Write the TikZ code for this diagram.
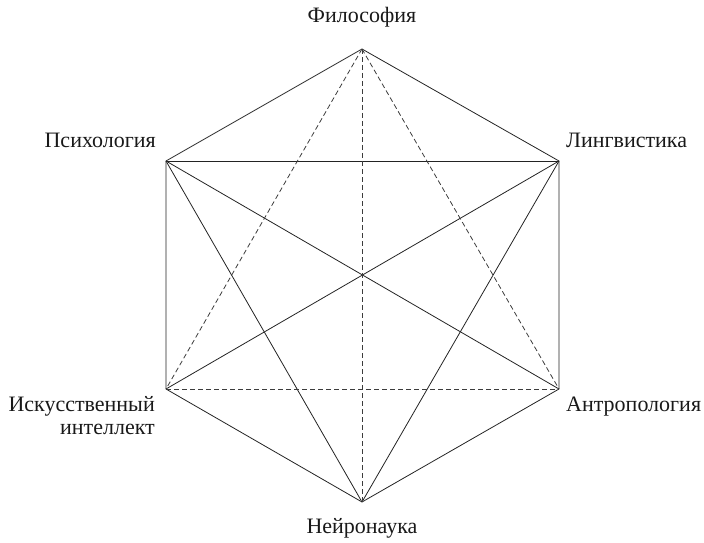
\documentclass[tikz,border=0pt]{standalone}
\usepackage{fontspec}
\setmainfont{Liberation Serif}
\usepackage{tikz}
\usetikzlibrary{calc,positioning}
\definecolor{hexLine}{RGB}{35,35,35}
\definecolor{hexDash}{RGB}{60,60,60}

\tikzset{
  solidedge/.style={hexLine, line width=0.8pt},
  dashedge/.style={hexDash, line width=0.8pt, dash pattern=on 5pt off 3pt},
  lbl/.style={font=\fontsize{22}{23}\selectfont, inner sep=0pt, text=black!90}
}

\begin{document}
\begin{tikzpicture}[x=1pt,y=1pt]
\useasboundingbox (0,0) rectangle (704,542);

% vertices of the hexagon
\coordinate (phil) at (362,493);
\coordinate (psy) at (166,381);
\coordinate (ling) at (559,381);
\coordinate (ai) at (166,153);
\coordinate (anth) at (559,153);
\coordinate (neuro) at (362,40);

% labels
\node[lbl, anchor=base] (philL) at (362,519) {Философия};
\node[lbl, anchor=base east] (psyL) at (156,395) {Психология};
\node[lbl, anchor=base west] (lingL) at (566,395) {Лингвистика};
\node[lbl, anchor=north east, align=right] (aiL) at (155,146) {Искусственный\\интеллект};
\node[lbl, anchor=base west] (anthL) at (566,131) {Антропология};
\node[lbl, anchor=base] (neuroL) at (362,9) {Нейронаука};

% solid connections
\draw[solidedge] (phil)--(psy)--(ai)--(neuro)--(anth)--(ling)--cycle;
\draw[solidedge] (psy)--(ling);
\draw[solidedge] (psy)--(anth);
\draw[solidedge] (psy)--(neuro);
\draw[solidedge] (ling)--(ai);
\draw[solidedge] (ling)--(neuro);

% dashed connections
\draw[dashedge] (phil)--(ai);
\draw[dashedge] (phil)--(anth);
\draw[dashedge] (phil)--(neuro);
\draw[dashedge] (ai)--(anth);
\end{tikzpicture}
\end{document}
